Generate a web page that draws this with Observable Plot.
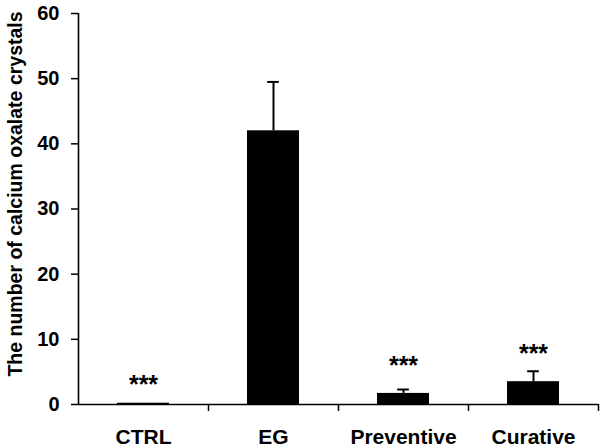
<!DOCTYPE html>
<html><head><meta charset="utf-8">
<script src="https://cdn.jsdelivr.net/npm/d3@7"></script>
<script src="https://cdn.jsdelivr.net/npm/@observablehq/plot@0.6"></script>
<style>body{margin:0;background:#fff}svg{font-family:"Liberation Sans",Arial,sans-serif}</style>
</head><body><div id="chart"></div>
<script>
const categories = ["CTRL", "EG", "Preventive", "Curative"];
const means = [0.2, 42, 1.7, 3.5];
const errors = [0, 7.5, 0.6, 1.6];
const starY = [3.9, 6.9, 8.7];
const starCats = ["CTRL", "Preventive", "Curative"];
const yTicks = [0, 10, 20, 30, 40, 50, 60];

const data = categories.map((c, i) => ({c, i: i + 0.5, m: means[i], e: errors[i]}));
const stars = starCats.map((c, k) => ({i: categories.indexOf(c) + 0.5, y: starY[k]}));
const half = 0.2, cap = 0.045;

const chart = Plot.plot({
  width: 601, height: 448,
  marginLeft: 78, marginRight: 3, marginTop: 13, marginBottom: 44,
  x: {domain: [0, categories.length], axis: null},
  y: {domain: [0, 60], axis: null},
  marks: [
    Plot.rectY(data, {x1: d => d.i - half, x2: d => d.i + half, y1: 0, y2: "m", fill: "black"}),
    Plot.ruleX(data.filter(d => d.e > 0), {x: "i", y1: "m", y2: d => d.m + d.e, stroke: "black", strokeWidth: 2}),
    Plot.ruleY(data.filter(d => d.e > 0), {y: d => d.m + d.e, x1: d => d.i - cap, x2: d => d.i + cap, stroke: "black", strokeWidth: 2}),
    Plot.text(stars, {x: "i", y: "y", text: () => "***", fontSize: 25, fontWeight: "bold", dy: 6}),
    Plot.ruleX([0], {stroke: "black", strokeWidth: 1.6}),
    Plot.ruleY([0], {stroke: "black", strokeWidth: 1.6}),
    Plot.axisY({ticks: yTicks, tickSize: 7, tickPadding: 12, fontSize: 20, fontWeight: "bold", label: null, stroke: "black", strokeWidth: 1.5, color: "black"}),
    Plot.axisX({ticks: [1, 2, 3, 4], tickSize: 7, tickFormat: () => "", label: null, strokeWidth: 1.5}),
    Plot.axisX({ticks: data.map(d => d.i), tickSize: 0, tickPadding: 25, tickFormat: v => categories[Math.floor(v)], fontSize: 21, fontWeight: "bold", label: null}),
    Plot.text(["The number of calcium oxalate crystals"], {frameAnchor: "left", textAnchor: "middle", text: d => d, rotate: -90, dx: -63, dy: -15, fontSize: 19.5, fontWeight: "bold"})
  ]
});
document.getElementById("chart").appendChild(chart);
</script></body></html>
